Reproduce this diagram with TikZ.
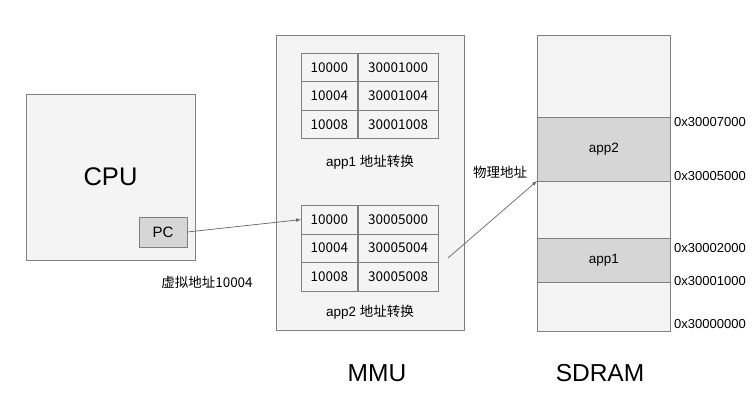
\documentclass[tikz,border=0pt]{standalone}
\usepackage{fontspec}
\setmainfont{Liberation Sans}
\newfontfamily\cjk{Noto Sans CJK SC}
\usetikzlibrary{positioning}
\definecolor{boxfill}{HTML}{F4F4F4}
\definecolor{darkfill}{HTML}{D6D6D6}
\definecolor{edge}{HTML}{808080}
\begin{document}
\begin{tikzpicture}[x=1pt,y=-1pt,
    box/.style={draw=edge,fill=boxfill,line width=0.8pt,inner sep=0pt},
    cell/.style={draw=edge,fill=boxfill,line width=0.7pt,inner sep=0pt,
      minimum height=28.5pt,font=\cjk\fontsize{13.5}{14}\selectfont},
    addr/.style={anchor=west,inner sep=0pt,font=\fontsize{13}{14}\selectfont},
    txt/.style={inner sep=0pt,font=\fontsize{13.5}{14}\selectfont},
    title/.style={inner sep=0pt,font=\fontsize{24.5}{26}\selectfont},
    arrow/.style={draw=edge!80!black,line width=0.7pt,-latex}]
  \useasboundingbox[fill=white] (0,0) rectangle (756,404);
  % CPU
  \node[box,minimum width=169pt,minimum height=166pt,
    font=\fontsize{25.5}{27}\selectfont] (cpu) at (110.5,177) {CPU};
  \node[box,fill=darkfill,minimum width=48pt,minimum height=30pt,
    font=\fontsize{15}{16}\selectfont] (pc) at (163,232) {PC};
  \node[txt] (vaddr) at (207,282) {\cjk 虚拟地址10004};
  % MMU
  \node[box,minimum width=188pt,minimum height=295pt] (mmu) at (370,182.5) {};
  \foreach \t/\top/\base in {1/53/3000100,2/205/3000500} {
    \foreach \r/\d in {1/0,2/4,3/8} {
      \node[cell,minimum width=56pt,anchor=north west] (t\t-k\r)
        at (301,{\top+(\r-1)*28.5}) {1000\d};
      \node[cell,minimum width=80pt,right=0pt of t\t-k\r] (t\t-v\r) {\base\d};
    }
  }
  \node[txt] (app1map) at (370,162) {app1 \cjk 地址转换};
  \node[txt] (app2map) at (370,312) {app2 \cjk 地址转换};
  \node[title] (mmutitle) at (377,373) {MMU};
  % SDRAM
  \foreach \i/\top/\h/\c/\name in {0/35/82/boxfill/{},1/117/64/darkfill/app2,
      2/181/57/boxfill/{},3/238/44/darkfill/app1,4/282/49/boxfill/{}} {
    \node[box,fill=\c,minimum width=133pt,minimum height=\h pt,anchor=north west,
      font=\fontsize{13.5}{14}\selectfont] (sd\i) at (537,\top) {\name};
  }
  \node[title] (sdtitle) at (600,373) {SDRAM};
  \node[addr] (a7) at (674,122) {0x30007000};
  \node[addr] (a5) at (674,176) {0x30005000};
  \node[addr] (a2) at (674,248) {0x30002000};
  \node[addr] (a1) at (674,281) {0x30001000};
  \node[addr] (a0) at (674,324) {0x30000000};
  \node[txt] (paddr) at (500,172) {\cjk 物理地址};
  % arrows
  \coordinate (phys) at (448,258);
  \draw[arrow] (pc.east) -- (t2-k1.west);
  \draw[arrow] (phys) -- (sd2.north west);
\end{tikzpicture}
\end{document}
